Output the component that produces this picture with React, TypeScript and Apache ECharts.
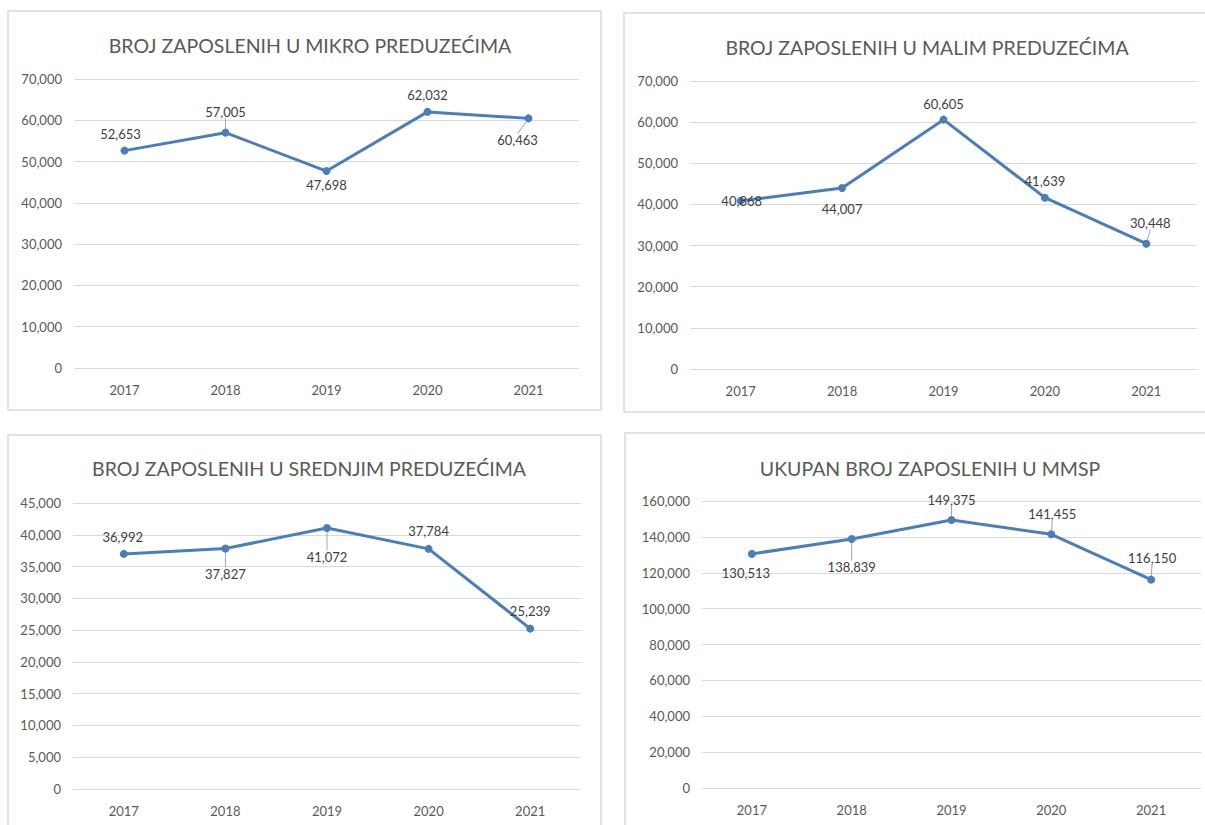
import React, { useEffect, useRef } from "react";
import * as echarts from "echarts";

const years = ["2017", "2018", "2019", "2020", "2021"];
const mikro = [52653, 57005, 47698, 62032, 60463];
const malim = [40868, 44007, 60605, 41639, 30448];
const srednjim = [36992, 37827, 41072, 37784, 25239];
const ukupno = [130513, 138839, 149375, 141455, 116150];

const titles = [
  "BROJ ZAPOSLENIH U MIKRO PREDUZEĆIMA",
  "BROJ ZAPOSLENIH U MALIM PREDUZEĆIMA",
  "BROJ ZAPOSLENIH U SREDNJIM PREDUZEĆIMA",
  "UKUPAN BROJ ZAPOSLENIH U MMSP",
];
const yMax = [70000, 70000, 45000, 160000];
const yStep = [10000, 10000, 5000, 20000];

// label placement relative to the point: [dx, dy, leader line]
const labelPlacement = [
  [[-4, -17, 0], [0, -21, 1], [0, 14, 0], [0, -17, 0], [-11, 22, 1]],
  [[1, 0, 0], [0, 21, 0], [0, -16, 0], [0, -17, 0], [4, -21, 1]],
  [[-1, -17, 0], [0, 25, 1], [0, 29, 1], [0, -18, 0], [0, -18, 0]],
  [[-6, 19, 0], [0, 28, 1], [0, -20, 1], [1, -20, 1], [1, -22, 1]],
];

const grids = [
  { left: 74, top: 79, width: 505, height: 289 },
  { left: 690, top: 81, width: 507, height: 288 },
  { left: 73, top: 503, width: 508, height: 286 },
  { left: 702, top: 501, width: 499, height: 287 },
];
const titlePos = [
  [305, 30],
  [922, 32],
  [304, 453],
  [925, 453],
];
const panels = [
  [8, 11, 593, 399],
  [624, 13, 590, 399],
  [8, 435, 593, 400],
  [625, 433, 590, 400],
];

const FONT = "Lato, 'Open Sans', sans-serif";
const LINE = "#4a7ebb";

export default function App() {
  const ref = useRef<HTMLDivElement>(null);
  useEffect(() => {
    const chart = echarts.init(ref.current!, null, { renderer: "svg" });
    const datasets = [mikro, malim, srednjim, ukupno];
    const fmt = (v: number) => v.toLocaleString("en-US");
    const option: any = {
      animation: false,
      backgroundColor: "#ffffff",
      textStyle: { fontFamily: FONT },
      graphic: panels.map((p) => ({
        type: "rect",
        shape: { x: p[0], y: p[1], width: p[2], height: p[3] },
        style: { fill: "none", stroke: "#d9d9d9", lineWidth: 1.5 },
        z: -1,
      })),
      title: titles.map((t, i) => ({
        text: t,
        left: titlePos[i][0],
        top: titlePos[i][1],
        textAlign: "center",
        textStyle: { fontFamily: FONT, fontSize: 19.5, fontWeight: "normal", color: "#595959" },
      })),
      grid: grids.map((g) => ({ ...g, containLabel: false })),
      xAxis: grids.map((_, i) => ({
        type: "category",
        gridIndex: i,
        data: years,
        boundaryGap: true,
        axisLine: { show: false },
        axisTick: { show: false },
        axisLabel: { color: "#595959", fontSize: 13, margin: 15, fontFamily: FONT },
      })),
      yAxis: grids.map((_, i) => ({
        type: "value",
        gridIndex: i,
        min: 0,
        max: yMax[i],
        interval: yStep[i],
        axisLine: { show: false },
        axisTick: { show: false },
        axisLabel: { color: "#595959", fontSize: 13, margin: 12, fontFamily: FONT, formatter: (v: number) => fmt(v) },
        splitLine: { lineStyle: { color: "#d9d9d9", width: 1 } },
      })),
      series: datasets.map((vals, i) => ({
        type: "line",
        xAxisIndex: i,
        yAxisIndex: i,
        data: vals.map((v, j) => ({
          value: v,
          labelLine: { show: labelPlacement[i][j][2] === 1 },
        })),
        symbol: "circle",
        symbolSize: 8,
        lineStyle: { color: LINE, width: 3 },
        itemStyle: { color: LINE },
        label: {
          show: true,
          position: "inside",
          color: "#404040",
          fontSize: 13,
          fontFamily: FONT,
          formatter: (p: any) => fmt(p.value),
        },
        labelLine: { show: true, lineStyle: { color: "#a6a6a6", width: 1 } },
        labelLayout: (p: any) => {
          const pl = labelPlacement[i][p.dataIndex];
          const cx = p.rect.x + p.rect.width / 2;
          const cy = p.rect.y + p.rect.height / 2;
          return { x: cx + pl[0], y: cy + pl[1], align: "center", verticalAlign: "middle" };
        },
      })),
    };
    chart.setOption(option);
    return () => chart.dispose();
  }, []);
  return (
    <div
      ref={ref}
      style={{ position: "absolute", left: 0, top: 0, width: 1205, height: 825 }}
    />
  );
}
